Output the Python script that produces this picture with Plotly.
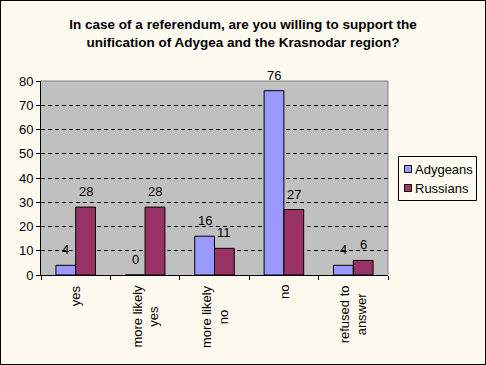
import plotly.graph_objects as go

categories = ["yes", "more likely<br>yes", "more likely<br>no", "no", "refused to<br>answer"]
adygeans = [4, 0, 16, 76, 4]
russians = [28, 28, 11, 27, 6]
y_ticks = [0, 10, 20, 30, 40, 50, 60, 70, 80]
series_names = ["Adygeans", "Russians"]
series_colors = ["#9999FF", "#993366"]

W, H = 486, 365
L, R, T, B = 41, 98, 81, 90
FONT = "Liberation Sans, Arial, sans-serif"
FS = 13
BARGAP = 0.43
pw = W - L - R
ph = H - T - B


def px_x(px):
    return (px - L) / pw


def px_y(py):
    return (H - B - py) / ph


fig = go.Figure()
for name, vals, col in zip(series_names, [adygeans, russians], series_colors):
    fig.add_trace(go.Bar(
        x=categories, y=vals, name=name,
        marker=dict(color=col, line=dict(color="black", width=1)),
        cliponaxis=False,
    ))

annotations = [
    dict(x=c, y=0, xref="x", yref="paper", yanchor="top", xanchor="center",
         yshift=-8, text=c, textangle=-90, align="center", showarrow=False,
         font=dict(size=FS, family=FONT, color="black"))
    for c in categories
]

# value labels above each bar (offset to the grouped bar centre)
bar_px = pw / len(categories) * (1 - BARGAP) / 2
for k, vals in enumerate([adygeans, russians]):
    shift = (k - 0.5) * bar_px
    for c, v in zip(categories, vals):
        annotations.append(dict(x=c, y=v, xref="x", yref="y", xanchor="center",
                                yanchor="bottom", xshift=shift, yshift=6, text=str(v),
                                showarrow=False,
                                font=dict(size=FS, family=FONT, color="black")))

shapes = [
    dict(type="line", xref="paper", yref="paper", x0=0, x1=1, y0=1, y1=1,
         line=dict(color="#808080", width=1)),
    dict(type="line", xref="paper", yref="paper", x0=1, x1=1, y0=0, y1=1,
         line=dict(color="#808080", width=1)),
    dict(type="rect", xref="paper", yref="paper",
         x0=px_x(0), x1=px_x(W), y0=px_y(H), y1=px_y(0),
         line=dict(color="black", width=2)),
    # legend box
    dict(type="rect", xref="paper", yref="paper",
         x0=px_x(398.5), x1=px_x(476.5), y0=px_y(200.5), y1=px_y(156.5),
         line=dict(color="black", width=1), fillcolor="#FFFAF0"),
]

legend_rows = [169, 188]
for name, col, cy in zip(series_names, series_colors, legend_rows):
    shapes.append(dict(type="rect", xref="paper", yref="paper",
                       x0=px_x(404.5), x1=px_x(411.5), y0=px_y(cy + 3.5), y1=px_y(cy - 3.5),
                       line=dict(color="black", width=1), fillcolor=col))
    annotations.append(dict(x=px_x(413), y=px_y(cy), xref="paper", yref="paper",
                            xanchor="left", yanchor="middle", text=name, showarrow=False,
                            font=dict(size=FS, family=FONT, color="black")))

fig.update_layout(
    width=W, height=H,
    margin=dict(l=L, r=R, t=T, b=B, pad=0, autoexpand=False),
    paper_bgcolor="#FFFAF0",
    plot_bgcolor="#C0C0C0",
    font=dict(family=FONT, size=FS, color="black"),
    title=dict(
        text="In case of a referendum, are you willing to support the<br>unification of Adygea and the Krasnodar region?",
        x=0.5, xanchor="center", y=1 - 29 / H, yanchor="top",
        font=dict(size=13.5, family=FONT, color="black", weight="bold"),
    ),
    barmode="group", bargap=BARGAP, bargroupgap=0,
    showlegend=False,
    xaxis=dict(
        showline=True, linecolor="black", linewidth=1,
        ticks="outside", ticklen=4, tickcolor="black", tickson="boundaries",
        showticklabels=False, showgrid=False, automargin=False,
    ),
    yaxis=dict(
        range=[0, 80], tickvals=y_ticks,
        showline=True, linecolor="black", linewidth=1,
        ticks="outside", ticklen=4, tickcolor="black",
        showgrid=True, gridcolor="black", gridwidth=1, griddash="4px,3px",
        zeroline=False, tickfont=dict(size=FS, family=FONT), automargin=False,
    ),
    annotations=annotations,
    shapes=shapes,
)

fig.write_html(
    "out.html",
    config={"displayModeBar": False},
    post_script="document.body.style.margin='0';document.body.style.overflow='hidden';",
)
